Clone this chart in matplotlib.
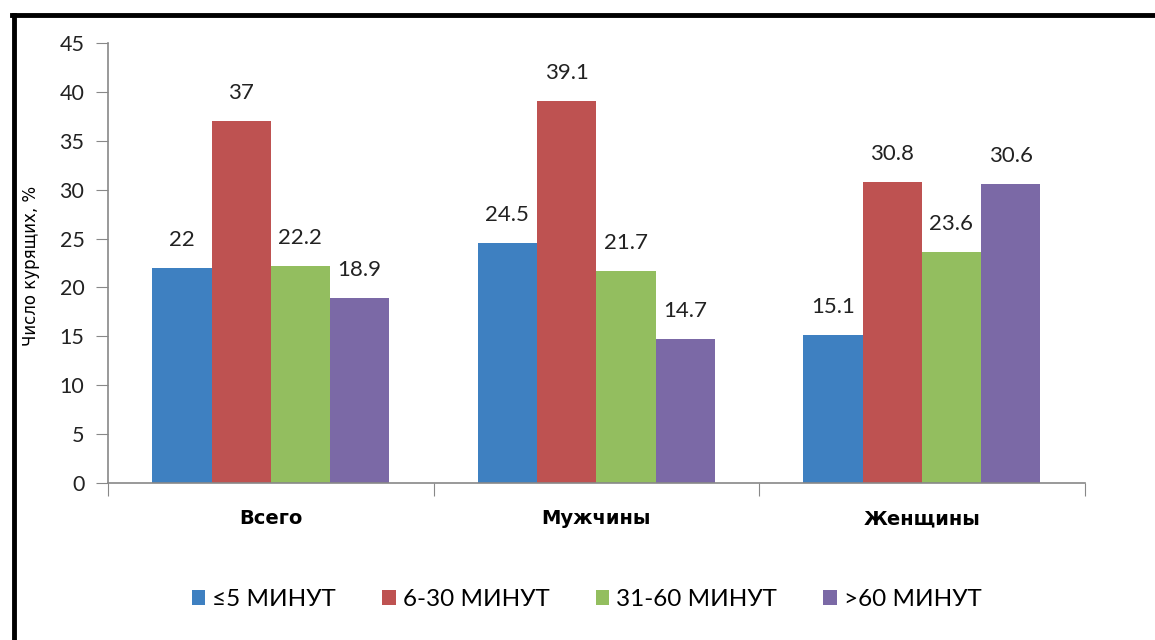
import matplotlib
matplotlib.use("Agg")
import matplotlib.pyplot as plt
from matplotlib.lines import Line2D
import numpy as np

categories = ["Всего", "Мужчины", "Женщины"]
series_names = ["≤5 МИНУТ", "6-30 МИНУТ", "31-60 МИНУТ", ">60 МИНУТ"]
v_le5 = [22, 24.5, 15.1]
v_6_30 = [37, 39.1, 30.8]
v_31_60 = [22.2, 21.7, 23.6]
v_gt60 = [18.9, 14.7, 30.6]
y_ticks = [0, 5, 10, 15, 20, 25, 30, 35, 40, 45]
y_label = "Число курящих, %"

series = [v_le5, v_6_30, v_31_60, v_gt60]
colors = ["#3E80C1", "#BE5251", "#93BE5F", "#7B69A6"]

fig = plt.figure(figsize=(11.55, 6.4), dpi=100)
ax = fig.add_axes([0.0935, 0.2453, 0.8455, 0.6875])

x = np.arange(len(categories))
bw = 0.182
for i, (vals, c, name) in enumerate(zip(series, colors, series_names)):
    pos = x + (i - 1.5) * bw
    bars = ax.bar(pos, vals, width=bw, color=c, label=name, zorder=2)
    for b, v in zip(bars, vals):
        ax.annotate(f"{v:g}", (b.get_x() + b.get_width() / 2, v),
                    xytext=(0, 13), textcoords="offset points",
                    ha="center", va="bottom", fontsize=16, family="Lato",
                    color="#222222")

ax.set_xlim(-0.5, 2.5)
ax.set_ylim(0, 45)
ax.set_yticks(y_ticks)
ax.set_yticklabels([str(t) for t in y_ticks], family="Lato", fontsize=15.5, color="#222222")
ax.set_xticks([-0.5, 0.5, 1.5, 2.5])
ax.set_xticklabels([])
ax.set_xticks(x, minor=True)
ax.set_xticklabels(categories, minor=True, fontsize=14, fontweight="bold",
                   family="DejaVu Sans")
ax.tick_params(axis="x", which="minor", length=0, pad=19)
ax.tick_params(axis="x", which="major", length=9, color="#888888")
ax.tick_params(axis="y", length=9, color="#888888", pad=8)
for s in ["top", "right"]:
    ax.spines[s].set_visible(False)
for s in ["left", "bottom"]:
    ax.spines[s].set_color("#888888")
    ax.spines[s].set_linewidth(1.2)

fig.text(0.027, 0.585, y_label, rotation=90, ha="center", va="center",
         fontsize=12, family="DejaVu Sans")

handles, labels = ax.get_legend_handles_labels()
leg = fig.legend(handles, labels, loc="center", bbox_to_anchor=(0.508, 0.063),
                 ncol=4, frameon=False, handlelength=0.55,
                 handleheight=0.55, handletextpad=0.3, columnspacing=1.9,
                 prop={"family": "Lato", "size": 17.5})

# black frame
fig.add_artist(Line2D([12 / 1155, 1.0], [1 - 15 / 640, 1 - 15 / 640],
                      transform=fig.transFigure, color="black", lw=3.5))
fig.add_artist(Line2D([14 / 1155, 14 / 1155], [0, 1 - 15 / 640],
                      transform=fig.transFigure, color="black", lw=3.5))

fig.savefig("out.png", dpi=100, facecolor="white")
